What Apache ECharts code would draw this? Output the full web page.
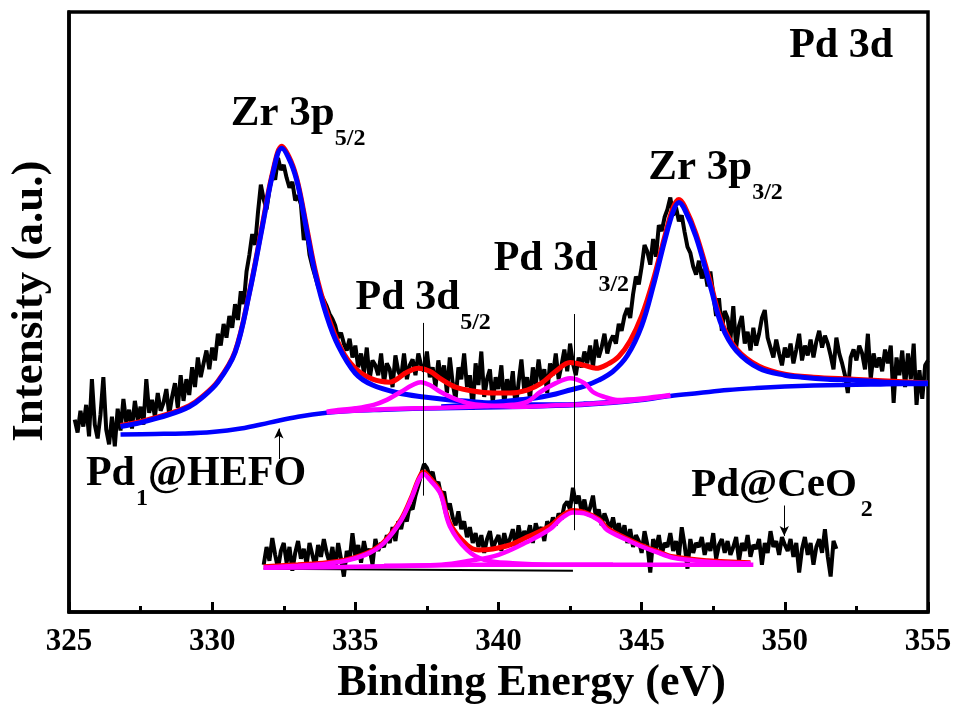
<!DOCTYPE html>
<html>
<head>
<meta charset="utf-8">
<title>Pd 3d XPS</title>
<script src="https://cdn.jsdelivr.net/npm/echarts@6.0.0/dist/echarts.min.js"></script>
<style>
html, body { margin: 0; padding: 0; background: #fff; }
#chart { width: 956px; height: 711px; }
</style>
</head>
<body>
<div id="chart"></div>
<script>
// raw spectra, 0.1 eV steps
var step = 0.1;
var hefoStart = 325.2;
var hefoRaw = [
  195, 182, 204, 188, 210, 178, 236, 190,
  176, 200, 238, 185, 170, 198, 168, 206, 184, 216,
  192, 205, 186, 214, 195, 208, 190, 236, 202, 215,
  198, 222, 204, 212, 226, 200, 218, 232, 207, 240,
  214, 236, 220, 248, 228, 258, 238, 252, 265, 246,
  268, 255, 282, 270, 292, 278, 300, 288, 312, 296,
  325, 312, 345, 362, 383, 372, 405, 433, 418, 408,
  428, 445, 438, 460, 448, 453, 440, 430, 436, 417,
  422, 413, 377, 387, 362, 350, 340, 330, 322, 316,
  310, 302, 297, 290, 278, 283, 272, 265, 277, 258,
  270, 248, 262, 242, 268, 236, 255, 250, 240, 262,
  232, 252, 246, 228, 260, 244, 238, 262, 236, 250,
  256, 240, 262, 250, 244, 264, 238, 248, 228, 255,
  236, 250, 222, 258, 232, 215, 248, 236, 262, 228,
  240, 205, 252, 230, 264, 218, 236, 246, 212, 238,
  226, 250, 210, 236, 222, 244, 206, 232, 256, 224,
  238, 216, 248, 230, 256, 234, 246, 222, 252, 240,
  262, 236, 250, 266, 244, 272, 252, 240, 258, 248,
  264, 252, 270, 248, 276, 258, 268, 282, 262, 274,
  280, 272, 292, 285, 300, 308, 298, 322, 340, 332,
  350, 372, 365, 352, 378, 360, 392, 386, 400, 408,
  420, 402, 410, 396, 402, 385, 370, 364, 350, 342,
  356, 338, 348, 330, 345, 322, 300, 318, 285, 305,
  298, 276, 310, 268, 290, 300, 272, 284, 265, 288,
  270, 282, 298, 306, 278, 268, 258, 276, 262, 250,
  268, 258, 272, 252, 266, 282, 255, 270, 260, 276,
  258, 274, 285, 268, 280, 272, 260, 246, 278, 262,
  252, 240, 222, 258, 266, 255, 270, 262, 246, 282,
  236, 262, 248, 258, 244, 266, 252, 270, 212, 258,
  240, 265, 228, 262, 236, 272, 210, 245, 216, 250,
  255
];
var ceoStart = 331.8;
var ceoRaw = [
  48, 66,
  52, 75, 58, 44, 62, 70, 50, 66, 42, 60,
  72, 54, 64, 48, 70, 58, 46, 68, 56, 74,
  60, 50, 66, 44, 70, 54, 36, 62, 52, 80,
  56, 68, 50, 72, 58, 64, 48, 74, 62, 70,
  66, 78, 70, 86, 72, 92, 84, 98, 92, 108,
  104, 118, 128, 140, 150, 146, 138, 142, 128, 132,
  118, 122, 104, 110, 96, 88, 102, 84, 92, 76,
  86, 70, 80, 66, 78, 60, 74, 82, 64, 72,
  78, 62, 80, 68, 74, 84, 66, 88, 72, 82,
  76, 88, 70, 90, 80, 86, 72, 92, 84, 96,
  88, 100, 94, 108, 112, 104, 126, 110, 118, 102,
  114, 98, 106, 118, 96, 104, 88, 100, 92, 84,
  96, 80, 90, 76, 88, 70, 84, 66, 78, 72,
  60, 82, 68, 40, 74, 64, 78, 58, 70, 66,
  80, 62, 72, 56, 86, 68, 44, 74, 60, 70,
  66, 76, 58, 70, 62, 80, 54, 68, 74, 60,
  72, 58, 66, 76, 52, 70, 62, 78, 56, 68,
  64, 74, 48, 70, 60, 82, 66, 72, 58, 76,
  68, 62, 74, 56, 70, 40, 64, 76, 58, 70,
  48, 66, 74, 60, 84, 56, 36, 72, 64
];

// fitted curves of Pd1@HEFO
var hefoBgE = [326.8, 328, 329, 330, 331, 332, 333, 334, 335, 336, 337, 338, 339, 340, 341, 342, 343, 344, 345, 346, 347, 348, 349, 350, 351, 352, 353, 354, 355];
var hefoBgI = [180, 180.5, 181, 182.5, 186, 192, 198, 202, 204, 205, 206, 206.5, 207, 207.5, 208, 209, 210, 212, 215, 219, 222, 225, 227, 228.5, 229.5, 230, 230.5, 231, 231];
var zr52E = [326.8, 327.5, 328.5, 329.2, 329.64, 330.2, 330.8, 331.3, 331.75, 332.1, 332.43, 332.75, 333.0, 333.3, 333.6, 334.0, 334.4, 335.0, 335.6, 336.5, 337.4, 338.3, 339.2, 340, 341, 342, 343, 344];
var zr52I = [188, 192, 200, 208, 217, 233, 263, 323, 390, 442, 470, 455, 432, 387, 343, 300, 270, 242, 230, 222, 218, 215, 213, 211, 210, 210, 211, 213];
var zr32E = [338, 339, 340, 341, 341.5, 342, 342.5, 343, 343.5, 344, 344.5, 345, 345.4, 345.8, 346.1, 346.3, 346.5, 346.9, 347.4, 347.8, 348.3, 349.1, 350, 350.6, 351.5, 352.4, 353.5, 355];
var zr32I = [208, 210, 213, 216, 218, 221, 225, 229, 235, 244, 260, 290, 330, 376, 406, 415, 408, 380, 330, 290, 265, 247, 240, 238, 236, 235, 233, 232];
var pd52E = [334, 334.5, 335, 335.64, 336.1, 336.58, 337, 337.28, 337.6, 337.98, 338.4, 338.9, 339.5, 340.8, 342, 343, 344, 345, 346];
var pd52I = [203, 205, 206.5, 210, 215, 223, 230, 233, 230, 223, 217, 212, 209.5, 208, 209.5, 210.5, 212.5, 215.5, 219.5];
var pd32E = [334, 336, 338, 339.5, 340.5, 341, 341.46, 342, 342.5, 343, 343.3, 343.7, 344.15, 345, 346];
var pd32I = [202.5, 205.5, 207, 208.5, 210, 213, 223, 232, 237, 232, 223, 218, 215, 216.5, 220];
var hefoSumE = [326.8, 327.5, 328.5, 329.2, 329.64, 330.2, 330.8, 331.3, 331.75, 332.1, 332.43, 332.75, 333.0, 333.3, 333.6, 334.0, 334.5, 335.0, 335.6, 336.2, 336.8, 337.2, 337.6, 338.0, 338.5, 339.1, 339.8, 340.4, 341.0, 341.5, 342.0, 342.5, 343.0, 343.4, 343.8, 344.2, 344.6, 345.0, 345.4, 345.8, 346.1, 346.3, 346.5, 346.9, 347.4, 347.8, 348.3, 349.1, 350, 351, 352.4, 355];
var hefoSumI = [189, 193, 201, 209, 218, 234, 264, 324, 392, 444, 472, 457, 434, 390, 346, 304, 267, 247, 236, 233, 243, 247, 244, 236, 228, 224, 222, 222, 225, 232, 244, 253, 250, 247, 251, 259, 275, 300, 336, 380, 410, 418, 411, 383, 334, 293, 267, 249, 241, 238, 236, 232];

// fitted curves of Pd@CeO2
var ceoBgE = [331.8, 334, 336, 338, 340, 342, 344, 346, 348.9];
var ceoBgI = [45, 45.5, 46.5, 47.5, 48, 48, 48, 48, 48];
var ceoBaseE = [331.8, 342.6];
var ceoBaseI = [44, 42];
var ceo52E = [331.8, 333, 334, 334.8, 335.5, 336, 336.6, 337, 337.2, 337.38, 337.6, 337.97, 338.3, 338.9, 339.5, 340.5, 341.8, 343, 344];
var ceo52I = [45, 47, 49, 53, 60, 70, 93, 118, 133, 140, 134, 120, 87, 63, 53, 49.5, 48, 48, 48];
var ceo32E = [336, 338, 339, 340, 341, 341.8, 342.2, 342.6, 343, 343.5, 343.8, 344.5, 344.95, 345.5, 346.1, 347.3, 348, 348.8];
var ceo32I = [47, 48, 52, 58, 71, 84, 95, 101, 100, 93, 83, 73, 67, 61, 55, 51, 50, 49.5];
var ceoSumE = [331.8, 333, 334, 334.8, 335.5, 336, 336.6, 337, 337.2, 337.38, 337.6, 337.97, 338.3, 338.9, 339.3, 339.8, 340.4, 341, 341.8, 342.2, 342.6, 343, 343.5, 343.8, 344.5, 344.95, 345.5, 346.1, 347.3, 348.8];
var ceoSumI = [46, 48, 50, 54, 61, 71, 94, 119, 134, 142, 136, 122, 90, 68, 63, 64, 68, 76, 87, 97, 103, 101, 94, 85, 74, 68, 62, 56, 52, 50];

var xTicks = [325, 330, 335, 340, 345, 350, 355];

function pairs(xs, ys) {
  return ys.map(function (y, i) { return [xs[i], y]; });
}
function grid(start, ys) {
  return ys.map(function (y, i) { return [+(start + i * step).toFixed(1), y]; });
}

var BLUE = '#0000ff', RED = '#ff0000', MAG = '#ff00ff';
var FONT = '"Liberation Serif", "Times New Roman", serif';

function fit(name, xs, ys, color, width, extra) {
  var s = {
    name: name, type: 'line', data: pairs(xs, ys), smooth: 0.35,
    showSymbol: false, symbol: 'none', silent: true,
    lineStyle: { color: color, width: width }
  };
  for (var k in extra) s[k] = extra[k];
  return s;
}

var chart = echarts.init(document.getElementById('chart'));
chart.setOption({
  animation: false,
  backgroundColor: '#fff',
  grid: { left: 68, right: 28, top: 12, bottom: 91, show: true, borderColor: '#000', borderWidth: 3.5 },
  xAxis: {
    type: 'value', min: 325, max: 355, interval: 5,
    name: 'Binding Energy (eV)', nameLocation: 'middle', nameGap: 33,
    nameTextStyle: { fontFamily: FONT, fontWeight: 'bold', fontSize: 44, color: '#000', padding: [0, 0, 0, 66] },
    axisLine: { show: true, lineStyle: { color: '#000', width: 3.5 } },
    axisTick: { show: true, inside: true, length: 10, lineStyle: { color: '#000', width: 3 } },
    minorTick: { show: true, splitNumber: 2, length: 6, lineStyle: { color: '#000', width: 3 } },
    axisLabel: {
      margin: 14, fontFamily: FONT, fontWeight: 'bold', fontSize: 31, color: '#000',
      customValues: xTicks
    },
    splitLine: { show: false }
  },
  yAxis: {
    type: 'value', min: 0, max: 608,
    name: 'Intensity (a.u.)', nameLocation: 'middle', nameGap: 16, nameRotate: 90,
    nameTextStyle: { fontFamily: FONT, fontWeight: 'bold', fontSize: 45, color: '#000', padding: [0, 0, 0, 22] },
    axisLine: { show: true, lineStyle: { color: '#000', width: 3.5 } },
    axisTick: { show: false }, axisLabel: { show: false }, splitLine: { show: false }
  },
  series: [
    { name: 'Pd1@HEFO raw', type: 'line', data: grid(hefoStart, hefoRaw), showSymbol: false, symbol: 'none',
      silent: true, lineStyle: { color: '#000', width: 4 } },
    { name: 'Pd@CeO2 raw', type: 'line', data: grid(ceoStart, ceoRaw), showSymbol: false, symbol: 'none',
      silent: true, lineStyle: { color: '#000', width: 4 } },
    fit('HEFO envelope', hefoSumE, hefoSumI, RED, 5),
    fit('HEFO background', hefoBgE, hefoBgI, BLUE, 4.5),
    fit('Zr 3p5/2', zr52E, zr52I, BLUE, 5),
    fit('Zr 3p3/2', zr32E, zr32I, BLUE, 5),
    fit('Pd 3d5/2', pd52E, pd52I, MAG, 4.5),
    fit('Pd 3d3/2', pd32E, pd32I, MAG, 4.5),
    fit('CeO2 base', ceoBaseE, ceoBaseI, '#000', 2, { smooth: false }),
    fit('CeO2 envelope', ceoSumE, ceoSumI, RED, 5),
    fit('CeO2 background', ceoBgE, ceoBgI, MAG, 4.5, {
      markLine: {
        silent: true, symbol: ['none', 'none'], label: { show: false }, animation: false,
        lineStyle: { color: '#000', width: 1, type: 'solid' },
        data: [
          [{ coord: [337.38, 118] }, { coord: [337.38, 293] }],
          [{ coord: [342.65, 83] }, { coord: [342.65, 302] }]
        ]
      }
    }),
    fit('CeO2 3d5/2', ceo52E, ceo52I, MAG, 4.5),
    fit('CeO2 3d3/2', ceo32E, ceo32I, MAG, 4.5, {
      markLine: {
        silent: true, symbol: ['none', 'arrow'], symbolSize: [7, 10], label: { show: false }, animation: false,
        lineStyle: { color: '#000', width: 1, type: 'solid' },
        data: [
          [{ coord: [332.33, 155] }, { coord: [332.33, 186] }],
          [{ coord: [349.98, 108] }, { coord: [349.98, 77] }]
        ]
      }
    })
  ]
});

// annotation texts, anchored in data coordinates (left edge, vertical middle)
var notes = [
  { t: 'Zr 3p', s: 43, at: [330.65, 505] }, { t: '5/2', s: 24, at: [334.28, 480] },
  { t: 'Pd 3d', s: 42, at: [335.01, 318] }, { t: '5/2', s: 24, at: [338.66, 293] },
  { t: 'Pd 3d', s: 42, at: [339.83, 358] }, { t: '3/2', s: 24, at: [343.49, 332] },
  { t: 'Zr 3p', s: 43, at: [345.23, 450] }, { t: '3/2', s: 24, at: [348.86, 425] },
  { t: 'Pd 3d', s: 42, at: [350.15, 573] },
  { t: 'Pd', s: 42, at: [325.59, 140] }, { t: '1', s: 24, at: [327.34, 115] }, { t: '@HEFO', s: 42, at: [327.76, 140] },
  { t: 'Pd@CeO', s: 41, at: [346.73, 128] }, { t: '2', s: 24, at: [352.65, 104] }
];
chart.setOption({
  graphic: notes.map(function (n) {
    var p = chart.convertToPixel({ gridIndex: 0 }, n.at);
    return {
      type: 'text', x: p[0], y: p[1], silent: true,
      style: { text: n.t, fill: '#000', fontFamily: FONT, fontWeight: 'bold', fontSize: n.s, align: 'left', verticalAlign: 'middle' }
    };
  })
});
</script>
</body>
</html>
